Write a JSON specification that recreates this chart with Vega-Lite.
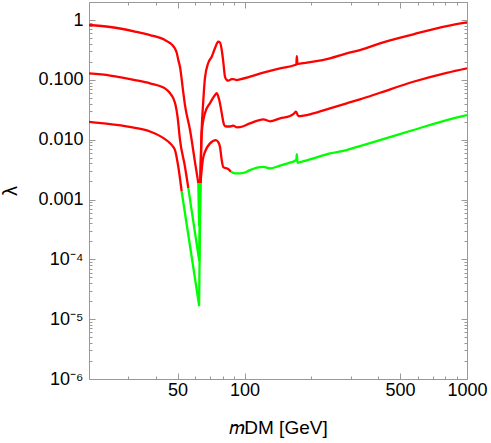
{
  "$schema": "https://vega.github.io/schema/vega-lite/v6.json",
  "width": 378,
  "height": 377,
  "autosize": "none",
  "padding": {"left": 89, "top": 2, "right": 24, "bottom": 64},
  "config": {
    "view": {"stroke": "#999999", "strokeWidth": 1},
    "font": "Liberation Sans",
    "axis": {"grid": false, "domain": false, "tickColor": "#999999", "tickWidth": 1, "labelColor": "#000000", "titleColor": "#000000", "labelOverlap": false, "labelBound": false, "labelFlush": false, "labelFontSize": 18, "titleFontSize": 19, "titleFontWeight": "normal"}
  },
  "data": {"values": [
    {"s":"A1","st":"red","m":20,"l":0.825},{"s":"A1","st":"red","m":24.9,"l":0.764},{"s":"A1","st":"red","m":32.2,"l":0.642},{"s":"A1","st":"red","m":37.6,"l":0.561},{"s":"A1","st":"red","m":43.9,"l":0.463},{"s":"A1","st":"red","m":46.2,"l":0.413},{"s":"A1","st":"red","m":47.8,"l":0.368},{"s":"A1","st":"red","m":48.9,"l":0.322},{"s":"A1","st":"red","m":49.6,"l":0.281},{"s":"A1","st":"red","m":50.4,"l":0.214},{"s":"A1","st":"red","m":51.3,"l":0.164},{"s":"A1","st":"red","m":52.9,"l":0.0675},{"s":"A1","st":"red","m":54.0,"l":0.0379},{"s":"A1","st":"red","m":56.9,"l":0.0145},{"s":"A1","st":"red","m":59.9,"l":0.00422},{"s":"A1","st":"red","m":62.0,"l":0.00188},
    {"s":"A2","st":"green","m":62.0,"l":0.00188},{"s":"A2","st":"green","m":62.5,"l":0.00037},{"s":"A2","st":"green","m":63.2,"l":0.00188},
    {"s":"A3","st":"red","m":63.2,"l":0.00188},{"s":"A3","st":"red","m":64.1,"l":0.0129},{"s":"A3","st":"red","m":65.3,"l":0.0459},{"s":"A3","st":"red","m":66.4,"l":0.107},{"s":"A3","st":"red","m":68.7,"l":0.191},{"s":"A3","st":"red","m":71.2,"l":0.243},{"s":"A3","st":"red","m":73.7,"l":0.34},{"s":"A3","st":"red","m":76.2,"l":0.434},{"s":"A3","st":"red","m":77.6,"l":0.421},{"s":"A3","st":"red","m":79.0,"l":0.315},{"s":"A3","st":"red","m":80.3,"l":0.198},{"s":"A3","st":"red","m":81.7,"l":0.113},{"s":"A3","st":"red","m":83.2,"l":0.0993},{"s":"A3","st":"red","m":84.6,"l":0.097},{"s":"A3","st":"red","m":87.6,"l":0.103},{"s":"A3","st":"red","m":89.0,"l":0.103},{"s":"A3","st":"red","m":92.2,"l":0.0993},{"s":"A3","st":"red","m":95.4,"l":0.102},{"s":"A3","st":"red","m":105.8,"l":0.113},{"s":"A3","st":"red","m":121.5,"l":0.132},{"s":"A3","st":"red","m":144.4,"l":0.156},{"s":"A3","st":"red","m":168.6,"l":0.177},{"s":"A3","st":"red","m":171.0,"l":0.181},{"s":"A3","st":"red","m":171.8,"l":0.25},{"s":"A3","st":"red","m":173.0,"l":0.184},{"s":"A3","st":"red","m":174.5,"l":0.185},{"s":"A3","st":"red","m":203.8,"l":0.201},{"s":"A3","st":"red","m":242.2,"l":0.229},{"s":"A3","st":"red","m":287.8,"l":0.277},{"s":"A3","st":"red","m":330.4,"l":0.315},{"s":"A3","st":"red","m":406.4,"l":0.408},{"s":"A3","st":"red","m":573.7,"l":0.577},{"s":"A3","st":"red","m":810.6,"l":0.794},{"s":"A3","st":"red","m":1000,"l":0.915},
    {"s":"B1","st":"red","m":20,"l":0.128},{"s":"B1","st":"red","m":24.9,"l":0.118},{"s":"B1","st":"red","m":32.2,"l":0.0993},{"s":"B1","st":"red","m":37.6,"l":0.0874},{"s":"B1","st":"red","m":43.9,"l":0.0721},{"s":"B1","st":"red","m":46.2,"l":0.0602},{"s":"B1","st":"red","m":47.8,"l":0.0496},{"s":"B1","st":"red","m":49.0,"l":0.0375},{"s":"B1","st":"red","m":50.0,"l":0.0242},{"s":"B1","st":"red","m":51.3,"l":0.00985},{"s":"B1","st":"red","m":54.0,"l":0.00352},{"s":"B1","st":"red","m":55.9,"l":0.00155},
    {"s":"B2","st":"green","m":55.9,"l":0.00155},{"s":"B2","st":"green","m":62.5,"l":0.000097},{"s":"B2","st":"green","m":63.4,"l":0.00188},
    {"s":"B3","st":"red","m":63.4,"l":0.00188},{"s":"B3","st":"red","m":64.2,"l":0.0129},{"s":"B3","st":"red","m":66.4,"l":0.0278},{"s":"B3","st":"red","m":70.0,"l":0.0409},{"s":"B3","st":"red","m":73.7,"l":0.0557},{"s":"B3","st":"red","m":75.0,"l":0.0602},{"s":"B3","st":"red","m":77.0,"l":0.0459},{"s":"B3","st":"red","m":79.0,"l":0.0278},{"s":"B3","st":"red","m":80.3,"l":0.0197},{"s":"B3","st":"red","m":81.7,"l":0.0169},{"s":"B3","st":"red","m":84.6,"l":0.0166},{"s":"B3","st":"red","m":87.6,"l":0.0169},{"s":"B3","st":"red","m":89.0,"l":0.0172},{"s":"B3","st":"red","m":92.2,"l":0.0161},{"s":"B3","st":"red","m":95.4,"l":0.0162},{"s":"B3","st":"red","m":105.8,"l":0.0187},{"s":"B3","st":"red","m":121.5,"l":0.0219},{"s":"B3","st":"red","m":130.2,"l":0.0203},{"s":"B3","st":"red","m":144.4,"l":0.0227},{"s":"B3","st":"red","m":160.1,"l":0.0248},{"s":"B3","st":"red","m":166.8,"l":0.0273},{"s":"B3","st":"red","m":170.4,"l":0.0293},{"s":"B3","st":"red","m":174.5,"l":0.0248},{"s":"B3","st":"red","m":203.8,"l":0.0275},{"s":"B3","st":"red","m":242.2,"l":0.0334},{"s":"B3","st":"red","m":287.8,"l":0.0405},{"s":"B3","st":"red","m":330.4,"l":0.0472},{"s":"B3","st":"red","m":406.4,"l":0.0609},{"s":"B3","st":"red","m":573.7,"l":0.093},{"s":"B3","st":"red","m":810.6,"l":0.131},{"s":"B3","st":"red","m":1000,"l":0.156},
    {"s":"C1","st":"red","m":20,"l":0.0199},{"s":"C1","st":"red","m":24.9,"l":0.0182},{"s":"C1","st":"red","m":32.2,"l":0.0158},{"s":"C1","st":"red","m":37.6,"l":0.0137},{"s":"C1","st":"red","m":43.9,"l":0.0102},{"s":"C1","st":"red","m":46.2,"l":0.00877},{"s":"C1","st":"red","m":47.8,"l":0.00761},{"s":"C1","st":"red","m":48.7,"l":0.0067},{"s":"C1","st":"red","m":50.4,"l":0.00352},{"s":"C1","st":"red","m":52.2,"l":0.00135},
    {"s":"C2","st":"green","m":52.2,"l":0.00135},{"s":"C2","st":"green","m":62.5,"l":0.0000171},{"s":"C2","st":"green","m":63.4,"l":0.00188},
    {"s":"C3","st":"red","m":63.4,"l":0.00188},{"s":"C3","st":"red","m":65.3,"l":0.00512},{"s":"C3","st":"red","m":70.0,"l":0.00867},{"s":"C3","st":"red","m":74.4,"l":0.00985},{"s":"C3","st":"red","m":76.2,"l":0.00912},{"s":"C3","st":"red","m":77.6,"l":0.00752},{"s":"C3","st":"red","m":79.0,"l":0.00456},{"s":"C3","st":"red","m":80.3,"l":0.00348},{"s":"C3","st":"red","m":84.6,"l":0.00322},{"s":"C3","st":"red","m":86.9,"l":0.00291},
    {"s":"C4","st":"green","m":86.9,"l":0.00291},{"s":"C4","st":"green","m":90.6,"l":0.00273},{"s":"C4","st":"green","m":95.4,"l":0.00273},{"s":"C4","st":"green","m":102.3,"l":0.00291},{"s":"C4","st":"green","m":105.8,"l":0.0031},{"s":"C4","st":"green","m":121.5,"l":0.00352},{"s":"C4","st":"green","m":130.2,"l":0.00331},{"s":"C4","st":"green","m":144.4,"l":0.00369},{"s":"C4","st":"green","m":160.1,"l":0.00414},{"s":"C4","st":"green","m":168.6,"l":0.00444},{"s":"C4","st":"green","m":171.0,"l":0.00465},{"s":"C4","st":"green","m":171.8,"l":0.00574},{"s":"C4","st":"green","m":173.0,"l":0.00411},{"s":"C4","st":"green","m":174.5,"l":0.00414},{"s":"C4","st":"green","m":203.8,"l":0.00487},{"s":"C4","st":"green","m":242.2,"l":0.0059},{"s":"C4","st":"green","m":287.8,"l":0.0067},{"s":"C4","st":"green","m":330.4,"l":0.00782},{"s":"C4","st":"green","m":406.4,"l":0.00985},{"s":"C4","st":"green","m":573.7,"l":0.0145},{"s":"C4","st":"green","m":810.6,"l":0.0213},{"s":"C4","st":"green","m":1000,"l":0.0258}
  ]},
  "layer": [
    {
      "transform": [{"filter": "indexof(['A2','B2','C2'], datum.s) < 0"}],
      "mark": {"type": "line", "strokeWidth": 2.3, "strokeJoin": "round", "interpolate": "monotone", "clip": true},
      "encoding": {
        "x": {"field": "m", "type": "quantitative", "scale": {"type": "log", "domain": [20, 1000], "nice": false},
          "axis": {"orient": "bottom", "values": [20,30,40,50,60,70,80,90,100,200,300,400,500,600,700,800,900,1000],
            "labelExpr": "indexof([50,100,500,1000], datum.value) >= 0 ? format(datum.value, 'd') : ''",
            "tickSize": {"condition": {"test": "indexof([50,100,500,1000], datum.value) >= 0", "value": -6}, "value": -3},
            "labelPadding": 8, "title": "𝑚DM [GeV]", "titlePadding": 16}},
        "y": {"field": "l", "type": "quantitative", "scale": {"type": "log", "domain": [0.000001, 2], "nice": false},
          "axis": {"orient": "left", "values": [1e-6,2e-6,3e-6,4e-6,5e-6,6e-6,7e-6,8e-6,9e-6,1e-5,2e-5,3e-5,4e-5,5e-5,6e-5,7e-5,8e-5,9e-5,1e-4,2e-4,3e-4,4e-4,5e-4,6e-4,7e-4,8e-4,9e-4,0.001,0.002,0.003,0.004,0.005,0.006,0.007,0.008,0.009,0.01,0.02,0.03,0.04,0.05,0.06,0.07,0.08,0.09,0.1,0.2,0.3,0.4,0.5,0.6,0.7,0.8,0.9,1,2],
            "labelExpr": "datum.value == 1 ? '1' : datum.value == 0.1 ? '0.100' : datum.value == 0.01 ? '0.010' : datum.value == 0.001 ? '0.001' : datum.value == 0.0001 ? '10⁻⁴' : datum.value == 0.00001 ? '10⁻⁵' : datum.value == 0.000001 ? '10⁻⁶' : ''",
            "tickSize": {"condition": {"test": "indexof([0.000001,0.00001,0.0001,0.001,0.01,0.1,1], datum.value) >= 0", "value": -6}, "value": -3},
            "labelPadding": 12, "title": "λ", "titleFontSize": 20, "titlePadding": 17}},
        "color": {"field": "st", "type": "nominal", "scale": {"domain": ["red", "green"], "range": ["#ff0000", "#00ff00"]}, "legend": null},
        "detail": {"field": "s"}
      }
    },
    {
      "transform": [{"filter": "indexof(['A2','B2','C2'], datum.s) >= 0"}],
      "mark": {"type": "line", "strokeWidth": 2.3, "strokeJoin": "round", "clip": true},
      "encoding": {
        "x": {"field": "m", "type": "quantitative", "axis": null},
        "y": {"field": "l", "type": "quantitative", "axis": null},
        "color": {"field": "st", "type": "nominal", "legend": null},
        "detail": {"field": "s"}
      }
    },
    {
      "mark": {"type": "line", "opacity": 0},
      "encoding": {
        "x": {"field": "m", "type": "quantitative",
          "axis": {"orient": "top", "values": [20,30,40,50,60,70,80,90,100,200,300,400,500,600,700,800,900,1000], "labels": false, "title": null,
            "tickSize": {"condition": {"test": "indexof([50,100,500,1000], datum.value) >= 0", "value": -6}, "value": -3}}},
        "y": {"field": "l", "type": "quantitative",
          "axis": {"orient": "right", "values": [1e-6,2e-6,3e-6,4e-6,5e-6,6e-6,7e-6,8e-6,9e-6,1e-5,2e-5,3e-5,4e-5,5e-5,6e-5,7e-5,8e-5,9e-5,1e-4,2e-4,3e-4,4e-4,5e-4,6e-4,7e-4,8e-4,9e-4,0.001,0.002,0.003,0.004,0.005,0.006,0.007,0.008,0.009,0.01,0.02,0.03,0.04,0.05,0.06,0.07,0.08,0.09,0.1,0.2,0.3,0.4,0.5,0.6,0.7,0.8,0.9,1,2], "labels": false, "title": null,
            "tickSize": {"condition": {"test": "indexof([0.000001,0.00001,0.0001,0.001,0.01,0.1,1], datum.value) >= 0", "value": -6}, "value": -3}}},
        "detail": {"field": "s"}
      }
    }
  ],
  "resolve": {"axis": {"x": "independent", "y": "independent"}}
}
